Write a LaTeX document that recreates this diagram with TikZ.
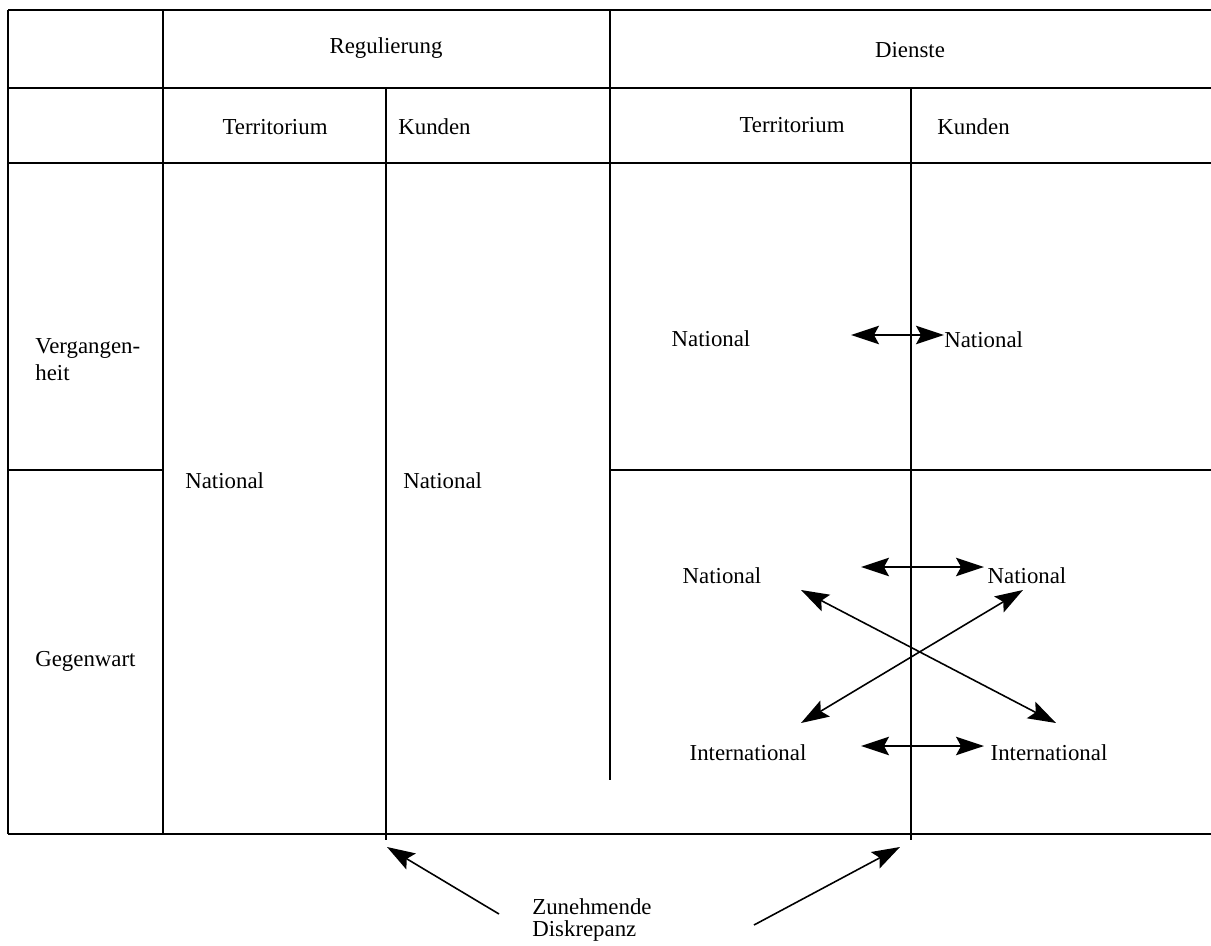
\documentclass[tikz,border=0pt]{standalone}
\usepackage{fontspec}
\setmainfont{Liberation Serif}
\usetikzlibrary{arrows.meta}
\begin{document}
\begin{tikzpicture}[x=0.02cm,y=-0.02cm,
  thick line/.style={line width=1.2pt},
  thin line/.style={line width=0.8pt},
  lbl/.style={inner sep=0pt,font=\fontsize{13}{15.3}\selectfont},
  head/.tip={Stealth[length=5.6mm,width=3.7mm,inset=1.0mm]},
  dbl/.style={line width=0.9pt,head-head},
  sgl/.style={line width=0.9pt,-head}]
\useasboundingbox (0,0) rectangle (1211,946);
% horizontal rules
\draw[thick line] (8,10) -- (1211,10);
\draw[thick line] (8,88) -- (1211,88);
\draw[thick line] (8,163) -- (1211,163);
\draw[thick line] (8,834) -- (1211,834);
\draw[thin line] (8,470) -- (163,470);
\draw[thin line] (610,470) -- (1211,470);
% vertical rules
\draw[thin line] (8,10) -- (8,834);
\draw[thin line] (163,10) -- (163,834);
\draw[thin line] (610,10) -- (610,780);
\draw[thin line] (386,88) -- (386,840);
\draw[thin line] (911,88) -- (911,840);
% header texts
\node[lbl] (reg) at (386,48) {Regulierung};
\node[lbl] (dien) at (910,50) {Dienste};
\node[lbl] (rt) at (275,127) {Territorium};
\node[lbl,anchor=west] (rk) at (398,127) {Kunden};
\node[lbl] (dt) at (792,125) {Territorium};
\node[lbl,anchor=west] (dk) at (937,127) {Kunden};
% row labels
\node[lbl,anchor=west,align=left] (verg) at (35,360) {Vergangen-\\heit};
\node[lbl,anchor=west] (gegw) at (35,661) {Gegenwart};
% Regulierung cells
\node[lbl,anchor=west] (rn1) at (185,481) {National};
\node[lbl,anchor=west] (rn2) at (403,481) {National};
% Dienste past
\node[lbl] (pn1) at (711,339) {National};
\node[lbl,anchor=west] (pn2) at (944,340) {National};
\coordinate (pa1) at (851,335);
\coordinate (pa2) at (944,335);
\draw[dbl] (pa1) -- (pa2);
% Dienste present
\node[lbl] (gn1) at (722,576) {National};
\node[lbl] (gn2) at (1027,576) {National};
\node[lbl] (gi1) at (748,753) {International};
\node[lbl] (gi2) at (1049,753) {International};
\coordinate (ga1) at (861,567);
\coordinate (ga2) at (984,567);
\draw[dbl] (ga1) -- (ga2);
\coordinate (gb1) at (861,746);
\coordinate (gb2) at (984,746);
\draw[dbl] (gb1) -- (gb2);
\coordinate (x1) at (801,590);
\coordinate (x2) at (1056,723);
\draw[dbl] (x1) -- (x2);
\coordinate (y1) at (1023,590);
\coordinate (y2) at (801,723);
\draw[dbl] (y1) -- (y2);
% bottom
\node[lbl,anchor=west,align=left,font=\fontsize{13}{12}\selectfont] (zd) at (532,920) {Zunehmende\\Diskrepanz};
\coordinate (la) at (499,914);
\coordinate (lt) at (387,847);
\draw[sgl] (la) -- (lt);
\coordinate (ra) at (754,925);
\coordinate (rt2) at (900,847);
\draw[sgl] (ra) -- (rt2);
\end{tikzpicture}
\end{document}
